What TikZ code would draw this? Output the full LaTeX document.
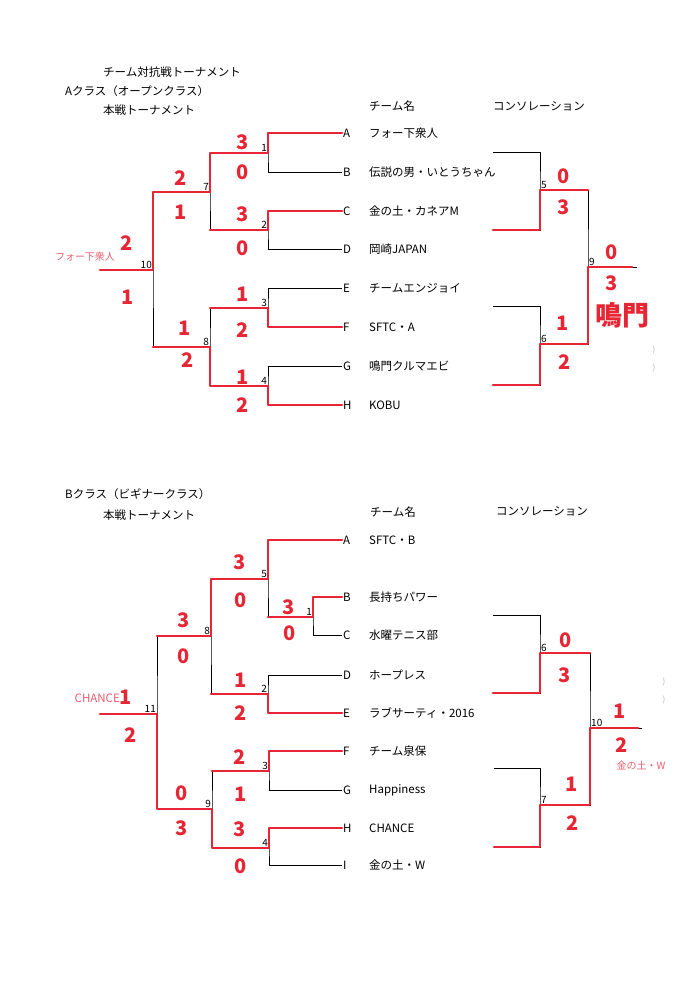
\documentclass[tikz,border=0pt]{standalone}
\usepackage{fontspec}
\setmainfont{Noto Sans CJK JP}
\usepackage{xcolor}
\usetikzlibrary{calc}
\definecolor{pen}{RGB}{230,38,52}
\definecolor{pencil}{RGB}{232,92,112}

\begin{document}
\begin{tikzpicture}[x=1pt, y=-1pt,
    wire/.style={line width=0.6pt},
    win/.style={pen, line width=2.8pt, line cap=round, line join=round},
    leaf/.style={anchor=west, inner sep=1pt, font=\fontsize{11.5}{11.5}\selectfont},
    team/.style={anchor=west, inner sep=0pt, font=\fontsize{11.5}{11.5}\selectfont},
    mnum/.style={anchor=south east, inner sep=1pt, font=\fontsize{10}{10}\selectfont},
    cnum/.style={mnum, anchor=south west},
    score/.style={pen, inner sep=0pt, font=\bfseries\fontsize{20}{20}\selectfont},
    note/.style={pencil, inner sep=0pt, font=\fontsize{10}{10}\selectfont},
    scanmark/.style={gray!60, inner sep=0pt, font=\fontsize{8}{8}\selectfont}]
\useasboundingbox (0,0) rectangle (700,989);

% A class titles
\node[team] (ttl) at (103,72) {チーム対抗戦トーナメント};
\node[team] (atl) at (65,91) {Aクラス（オープンクラス）};
\node[team] (amn) at (103,110) {本戦トーナメント};
\node[team] (anm) at (369,106) {チーム名};
\node[team] (acn) at (493,106) {コンソレーション};

% A class leaves
\foreach \l/\y/\t in {A/133/フォー下衆人, B/172/伝説の男・いとうちゃん, C/211/金の土・カネアM, D/249/岡崎JAPAN,
                     E/288/チームエンジョイ, F/327/SFTC・A, G/366/鳴門クルマエビ, H/405/KOBU}
{
    \node[leaf] (a\l) at (342,\y) {\l};
    \node[team] (at\l) at (369,\y) {\t};
}
\coordinate (a1) at (268,153);
\coordinate (a2) at (268,230);
\coordinate (a3) at (268,308);
\coordinate (a4) at (268,386);
\coordinate (a7) at (210,192);
\coordinate (a8) at (210,347);
\coordinate (a10) at (153,270);
\coordinate (aend) at (100,270);

\draw[wire] (aA.west) -| (a1) |- (aB.west);
\draw[wire] (aC.west) -| (a2) |- (aD.west);
\draw[wire] (aE.west) -| (a3) |- (aF.west);
\draw[wire] (aG.west) -| (a4) |- (aH.west);
\draw[wire] (a1) -| (a7) |- (a2);
\draw[wire] (a3) -| (a8) |- (a4);
\draw[wire] (a7) -| (a10) |- (a8);
\draw[wire] (a10) -- (aend);

\draw[win] (aA.west) -| (a1) -| (a7) -| (a10) -- (aend);
\draw[win] (aC.west) -| (a2) -- (a2 -| a7);
\draw[win] (aF.west) -| (a3) -- (a3 -| a8);
\draw[win] (aH.west) -| (a4) -| (a8) -- (a8 -| a10);

\node[mnum] (na1) at (a1) {1};
\node[mnum] (na2) at (a2) {2};
\node[mnum] (na3) at (a3) {3};
\node[mnum] (na4) at (a4) {4};
\node[mnum] (na7) at (a7) {7};
\node[mnum] (na8) at (a8) {8};
\node[mnum] (na10) at (a10) {10};

\node[score] (sa1u) at (243,142) {3};  \node[score] (sa1d) at (243,172) {0};
\node[score] (sa2u) at (243,214) {3};  \node[score] (sa2d) at (243,248) {0};
\node[score] (sa3u) at (243,294) {1};  \node[score] (sa3d) at (243,330) {2};
\node[score] (sa4u) at (243,377) {1};  \node[score] (sa4d) at (243,405) {2};
\node[score] (sa7u) at (181,178) {2};  \node[score] (sa7d) at (181,212) {1};
\node[score] (sa8u) at (185,328) {1};  \node[score] (sa8d) at (188,360) {2};
\node[score] (sa10u) at (127,243) {2}; \node[score] (sa10d) at (128,297) {1};
\node[note] (wa) at (85,257) {フォー下衆人};

% A class consolation
\coordinate (c5t) at (493,152);
\coordinate (c5b) at (493,230);
\coordinate (c6t) at (493,306);
\coordinate (c6b) at (493,385);
\coordinate (a5) at (540,190);
\coordinate (a6) at (540,344);
\coordinate (a9) at (588,267);
\coordinate (cend) at (637,267);

\draw[wire] (c5t) -| (a5) |- (c5b);
\draw[wire] (c6t) -| (a6) |- (c6b);
\draw[wire] (a5) -| (a9) |- (a6);
\draw[wire] (a9) -- (cend);
\draw[win] (c5b) -| (a5) -- (a5 -| a9);
\draw[win] (c6b) -| (a6) -| (a9) -- ($(cend)+(-5,0)$);

\node[cnum] (na5) at (a5) {5};
\node[cnum] (na6) at (a6) {6};
\node[cnum] (na9) at (a9) {9};
\node[score] (sa5u) at (564,176) {0};  \node[score] (sa5d) at (564,207) {3};
\node[score] (sa6u) at (563,323) {1};  \node[score] (sa6d) at (565,362) {2};
\node[score] (sa9u) at (612,252) {0};  \node[score] (sa9d) at (612,283) {3};
\node[score, font=\bfseries\fontsize{27}{27}\selectfont] (wc) at (622,315) {鳴門};
\node[scanmark] (ma1) at (654,350) {)};
\node[scanmark] (ma2) at (654,368) {)};

% B class titles
\node[team] (btl) at (65,494) {Bクラス（ビギナークラス）};
\node[team] (bmn) at (103,515) {本戦トーナメント};
\node[team] (bnm) at (370,512) {チーム名};
\node[team] (bcn) at (496,511) {コンソレーション};

% B class leaves
\foreach \l/\y/\t in {A/540/SFTC・B, B/597/長持ちパワー, C/635/水曜テニス部, D/675/ホープレス,
                     E/713/ラブサーティ・2016, F/751/チーム泉保, G/790/Happiness, H/828/CHANCE, I/865/金の土・W}
{
    \node[leaf] (b\l) at (342,\y) {\l};
    \node[team] (bt\l) at (369,\y) {\t};
}
\coordinate (b1) at (313,617);
\coordinate (b5) at (268,579);
\coordinate (b2) at (268,694);
\coordinate (b3) at (269,771);
\coordinate (b4) at (269,848);
\coordinate (b8) at (211,636);
\coordinate (b9) at (212,809);
\coordinate (b11) at (157,714);
\coordinate (bend) at (100,714);

\draw[wire] (bB.west) -| (b1) |- (bC.west);
\draw[wire] (bA.west) -| (b5) |- (b1);
\draw[wire] (bD.west) -| (b2) |- (bE.west);
\draw[wire] (bF.west) -| (b3) |- (bG.west);
\draw[wire] (bH.west) -| (b4) |- (bI.west);
\draw[wire] (b5) -| (b8) |- (b2);
\draw[wire] (b3) -| (b9) |- (b4);
\draw[wire] (b8) -| (b11) |- (b9);
\draw[wire] (b11) -- (bend);

\draw[win] (bA.west) -| (b5) -| (b8) -- (b8 -| b11);
\draw[win] (bB.west) -| (b1) -- (b1 -| b5);
\draw[win] (bE.west) -| (b2) -- (b2 -| b8);
\draw[win] (bF.west) -| (b3) -- (b3 -| b9);
\draw[win] (bH.west) -| (b4) -| (b9) -| (b11) -- (bend);

\node[mnum] (nb1) at (b1) {1};
\node[mnum] (nb2) at (b2) {2};
\node[mnum] (nb3) at (b3) {3};
\node[mnum] (nb4) at (b4) {4};
\node[mnum] (nb5) at (b5) {5};
\node[mnum] (nb8) at (b8) {8};
\node[mnum] (nb9) at (b9) {9};
\node[mnum] (nb11) at (b11) {11};

\node[score] (sb1u) at (289,607) {3};  \node[score] (sb1d) at (290,633) {0};
\node[score] (sb5u) at (240,562) {3};  \node[score] (sb5d) at (241,600) {0};
\node[score] (sb2u) at (241,680) {1};  \node[score] (sb2d) at (241,713) {2};
\node[score] (sb3u) at (240,757) {2};  \node[score] (sb3d) at (241,794) {1};
\node[score] (sb4u) at (240,829) {3};  \node[score] (sb4d) at (241,866) {0};
\node[score] (sb8u) at (184,620) {3};  \node[score] (sb8d) at (184,656) {0};
\node[score] (sb9u) at (182,793) {0};  \node[score] (sb9d) at (182,828) {3};
\node[score] (sb11u) at (126,697) {1}; \node[score] (sb11d) at (131,735) {2};
\node[note, anchor=east, font=\fontsize{11.5}{11.5}\selectfont] (wb) at (120,698) {CHANCE};

% B class consolation
\coordinate (d6t) at (493,615);
\coordinate (d6b) at (493,693);
\coordinate (d7t) at (494,768);
\coordinate (d7b) at (494,847);
\coordinate (b6) at (540,653);
\coordinate (b7) at (540,805);
\coordinate (b10) at (590,728);
\coordinate (dend) at (642,728);

\draw[wire] (d6t) -| (b6) |- (d6b);
\draw[wire] (d7t) -| (b7) |- (d7b);
\draw[wire] (b6) -| (b10) |- (b7);
\draw[wire] (b10) -- (dend);
\draw[win] (d6b) -| (b6) -- (b6 -| b10);
\draw[win] (d7b) -| (b7) -| (b10) -- ($(dend)+(-4,0)$);

\node[cnum] (nb6) at (b6) {6};
\node[cnum] (nb7) at (b7) {7};
\node[cnum] (nb10) at (b10) {10};
\node[score] (sb6u) at (566,640) {0};  \node[score] (sb6d) at (565,675) {3};
\node[score] (sb7u) at (572,784) {1};  \node[score] (sb7d) at (573,823) {2};
\node[score] (sb10u) at (620,711) {1}; \node[score] (sb10d) at (622,745) {2};
\node[note] (wd) at (641,766) {金の土・W};
\node[scanmark] (mb1) at (664,682) {)};
\node[scanmark] (mb2) at (664,700) {)};
\end{tikzpicture}
\end{document}
